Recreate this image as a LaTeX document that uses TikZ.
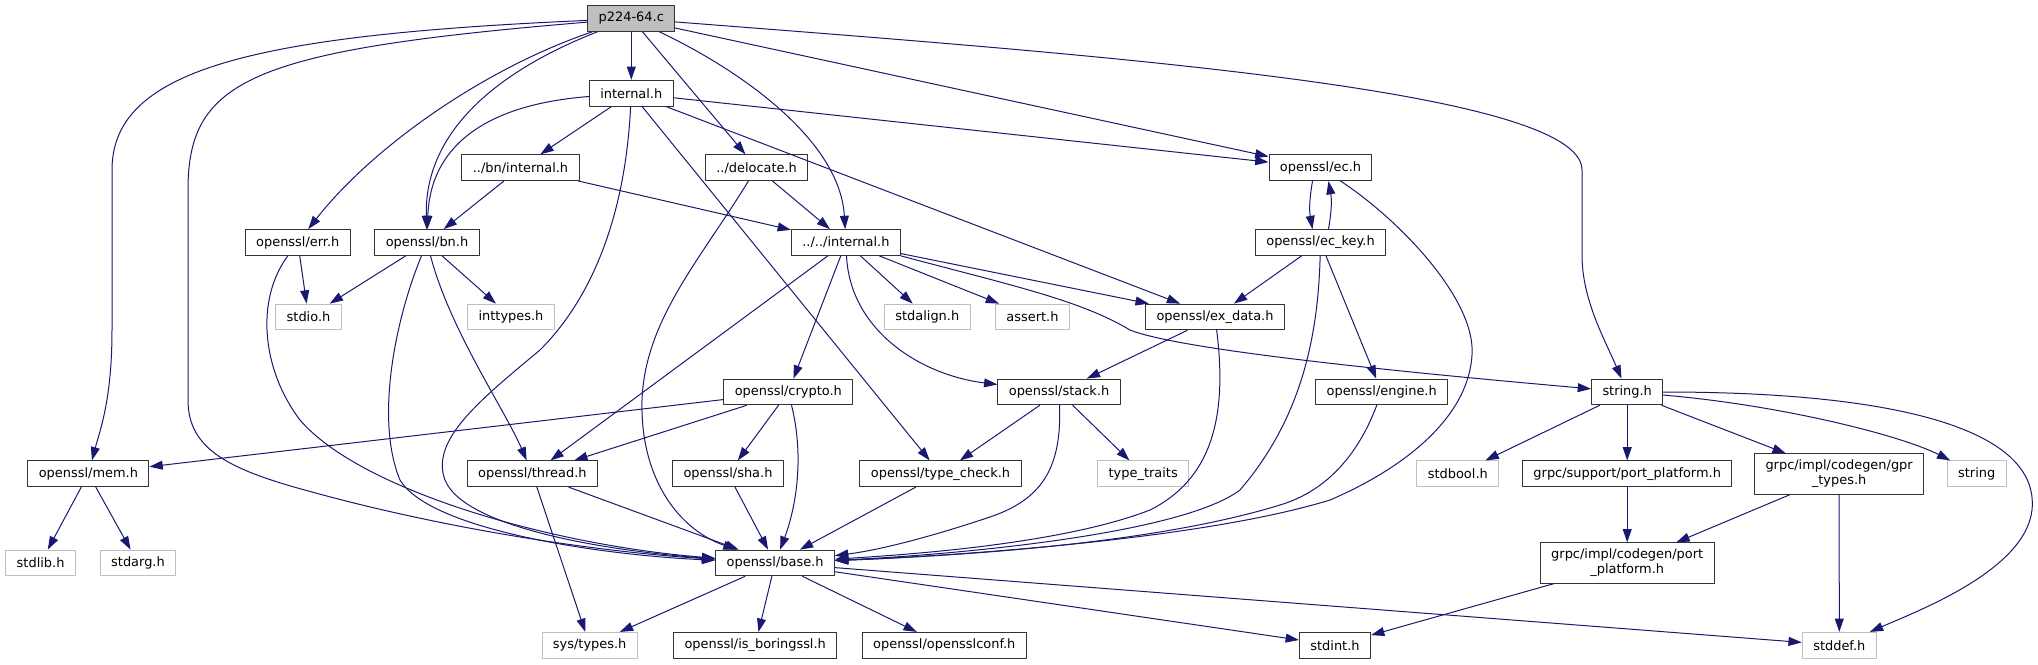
\documentclass[tikz,border=0pt]{standalone}
\usepackage{fontspec}
\setmainfont{DejaVu Sans}
\usetikzlibrary{arrows.meta}
\definecolor{incblue}{HTML}{191970}
\definecolor{extgray}{HTML}{BFBFBF}
\tikzset{
  hdr/.style={draw=black!80, fill=white, line width=0.75pt, minimum height=19.3pt, inner xsep=8.2pt, inner ysep=0pt},
  ext/.style={hdr, draw=extgray},
  root/.style={hdr, fill=extgray},
  two/.style={hdr, align=center, minimum height=30.2pt},
  incl/.style={->, draw=incblue, line width=0.75pt},
}
\begin{document}
\begin{tikzpicture}[x=0.75pt, y=-0.75pt, font=\fontsize{9.7}{11.3}\selectfont, line join=round, line cap=round, >={Triangle[length=10pt,width=6.7pt]}]
	\def\rA{18.5}\def\rB{93.2}\def\rC{167.7}\def\rD{242.5}\def\rE{317}\def\rF{392}\def\rG{473.8}\def\rH{563}\def\rI{645.3}
	\useasboundingbox (0,0) rectangle (2038,664);
	\node[root] (p224) at (631.3,\rA) {p224-64.c};
	\node[hdr] (intern) at (631.3,\rB) {internal.h};
	\node[hdr] (bnint) at (520.5,\rC) {../bn/internal.h};
	\node[hdr] (deloc) at (756.6,\rC) {../delocate.h};
	\node[hdr] (ech) at (1320.5,\rC) {openssl/ec.h};
	\node[hdr] (errh) at (297.8,\rD) {openssl/err.h};
	\node[hdr] (bnh) at (427,\rD) {openssl/bn.h};
	\node[hdr] (iint) at (845.9,\rD) {../../internal.h};
	\node[hdr] (eckey) at (1320.5,\rD) {openssl/ec\_key.h};
	\node[ext] (stdio) at (308.5,\rE) {stdio.h};
	\node[ext] (inttyp) at (511,\rE) {inttypes.h};
	\node[ext] (stdal) at (927.3,\rE) {stdalign.h};
	\node[ext] (asrt) at (1032.5,\rE) {assert.h};
	\node[hdr] (exdata) at (1215,\rE) {openssl/ex\_data.h};
	\node[hdr] (crypto) at (788.3,\rF) {openssl/crypto.h};
	\node[hdr] (stack) at (1059,\rF) {openssl/stack.h};
	\node[hdr] (engine) at (1381.7,\rF) {openssl/engine.h};
	\node[hdr] (strh) at (1627.2,\rF) {string.h};
	\node[hdr] (memh) at (88.4,\rG) {openssl/mem.h};
	\node[hdr] (thread) at (532.4,\rG) {openssl/thread.h};
	\node[hdr] (sha) at (728,\rG) {openssl/sha.h};
	\node[hdr] (tcheck) at (940.5,\rG) {openssl/type\_check.h};
	\node[ext] (ttraits) at (1143.2,\rG) {type\_traits};
	\node[ext] (stdbool) at (1457.8,\rG) {stdbool.h};
	\node[hdr] (gsupp) at (1627.2,\rG) {grpc/support/port\_platform.h};
	\node[two] (gprt) at (1839.1,474) {grpc/impl/codegen/gpr\\\_types.h};
	\node[ext] (strg) at (1976.7,\rG) {string};
	\node[ext] (stdlib) at (40.6,\rH) {stdlib.h};
	\node[ext] (stdarg) at (138,\rH) {stdarg.h};
	\node[hdr] (base) at (775.1,\rH) {openssl/base.h};
	\node[two] (gport) at (1627.2,\rH) {grpc/impl/codegen/port\\\_platform.h};
	\node[ext] (systyp) at (589.7,\rI) {sys/types.h};
	\node[hdr] (isbor) at (755.2,\rI) {openssl/is\_boringssl.h};
	\node[hdr] (oconf) at (944.3,\rI) {openssl/opensslconf.h};
	\node[hdr] (stdinth) at (1335,\rI) {stdint.h};
	\node[ext] (stddefh) at (1839.3,\rI) {stddef.h};
	\foreach \a/\b in {p224/intern, p224/deloc, p224/ech, intern/bnint, intern/tcheck, intern/ech, intern/exdata,
		bnint/bnh, bnint/iint, deloc/iint, errh/stdio, bnh/stdio, bnh/inttyp, iint/thread, iint/crypto, iint/stdal,
		iint/asrt, iint/exdata, eckey/exdata, eckey/engine, exdata/stack, crypto/memh, crypto/thread, crypto/sha,
		sha/base, tcheck/base, stack/tcheck, stack/ttraits, memh/stdlib, memh/stdarg, thread/systyp, thread/base,
		base/systyp, base/isbor, base/oconf, base/stdinth, base/stddefh, strh/stdbool, strh/gsupp, strh/gprt,
		gsupp/gport, gprt/gport, gprt/stddefh, gport/stdinth}
		\draw[incl] (\a) -- (\b);
	\draw[incl] (p224) .. controls (250,35) and (112,70) .. (112,170) -- (112,330) .. controls (112,400) and (100,430) .. (memh);
	\draw[incl] (p224) .. controls (250,50) and (188,80) .. (188,190) -- (188,400) .. controls (188,450) and (230,470) .. (312,492) .. controls (450,530) and (600,552) .. (base);
	\draw[incl] (p224) .. controls (480,70) and (370,150) .. (errh);
	\draw[incl] (p224) .. controls (500,70) and (424,130) .. (bnh);
	\draw[incl] (p224) .. controls (740,70) and (840,140) .. (iint);
	\draw[incl] (p224) .. controls (1100,55) and (1582,90) .. (1582,170) -- (1582,255) .. controls (1582,300) and (1605,340) .. (strh);
	\draw[incl] (intern) .. controls (480,105) and (430,150) .. (bnh);
	\draw[incl] (intern) .. controls (625,220) and (590,300) .. (540,350) .. controls (480,400) and (430,440) .. (445,480) .. controls (465,530) and (620,552) .. (base);
	\draw[incl] (deloc) .. controls (700,260) and (645,320) .. (642,400) .. controls (640,480) and (680,530) .. (base);
	\draw[incl] (errh) .. controls (255,300) and (262,370) .. (300,420) .. controls (360,490) and (550,545) .. (base);
	\draw[incl] (bnh) .. controls (395,320) and (375,420) .. (400,480) .. controls (430,530) and (600,555) .. (base);
	\draw[incl] (bnh) .. controls (450,330) and (505,410) .. (thread);
	\draw[incl] (iint) .. controls (850,330) and (920,375) .. (stack);
	\draw[incl] (iint.south east) .. controls (1010,285) and (1080,300) .. (1130,330) .. controls (1180,350) and (1400,372) .. (strh);
	\draw[incl] ([xshift=-6pt]ech.south) to[bend right=10] ([xshift=-6pt]eckey.north);
	\draw[incl] ([xshift=6pt]eckey.north) to[bend right=10] ([xshift=6pt]ech.south);
	\draw[incl] ([xshift=15pt]ech.south) .. controls (1400,220) and (1476,300) .. (1472,355) .. controls (1468,420) and (1400,470) .. (1330,500) .. controls (1200,540) and (950,556) .. (base);
	\draw[incl] (eckey) .. controls (1318,340) and (1300,420) .. (1240,490) .. controls (1180,535) and (950,555) .. (base);
	\draw[incl] (exdata) .. controls (1228,420) and (1210,480) .. (1150,510) .. controls (1060,545) and (900,555) .. (base);
	\draw[incl] (engine) .. controls (1360,450) and (1330,490) .. (1280,505) .. controls (1150,545) and (950,556) .. (base);
	\draw[incl] (stack) .. controls (1062,470) and (1040,500) .. (990,517) .. controls (930,537) and (880,550) .. (base);
	\draw[incl] (crypto) .. controls (805,460) and (795,510) .. (base);
	\draw[incl] (strh) .. controls (1780,405) and (1900,435) .. (strg);
	\draw[incl] (strh) .. controls (1900,392) and (2040,430) .. (2032,510) .. controls (2025,570) and (1920,610) .. (stddefh);
\end{tikzpicture}
\end{document}
